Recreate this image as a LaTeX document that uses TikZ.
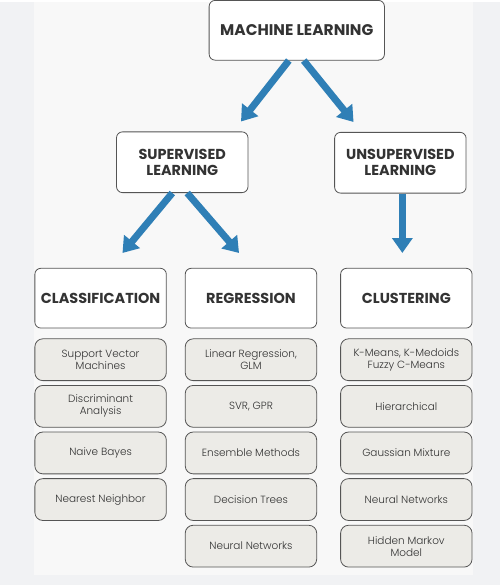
\documentclass[tikz,border=0pt]{standalone}
\usepackage{fontspec}
\setmainfont{Poppins}
\newfontfamily\itemfont{Poppins Light}
\usetikzlibrary{arrows.meta,positioning}
\definecolor{mlblue}{HTML}{2F7FB6}
\definecolor{mltext}{HTML}{333333}
\definecolor{mledge}{HTML}{555555}
\definecolor{mlitem}{HTML}{ECEBE7}
\definecolor{mlback}{HTML}{F1F2F4}
\definecolor{mlpanel}{HTML}{F8F8F8}
\begin{document}
\begin{tikzpicture}[
  x=1pt,y=-1pt,
  text=mltext,
  node distance=4pt,
  topbox/.style={draw=mledge,fill=white,rounded corners=6pt,line width=0.8pt,align=center,
    minimum width=132pt,minimum height=61pt,font=\bfseries\fontsize{14.5}{16}\selectfont},
  headbox/.style={topbox,minimum height=60pt},
  item/.style={draw=mledge,fill=mlitem,rounded corners=8pt,line width=0.8pt,align=center,
    minimum width=132pt,minimum height=42pt,inner sep=2pt,font=\itemfont\fontsize{10.5}{12}\selectfont},
  arr/.style={-{Triangle[width=20pt,length=15pt]},line width=7pt,draw=mlblue}
]
% margins and panel
\fill[mlback] (0,0) rectangle (502,585);
\fill[mlpanel] (34,0) rectangle (475,575);

% upper levels
\node[topbox,minimum width=176pt,minimum height=60pt,font=\bfseries\fontsize{15.5}{17}\selectfont] (ml) at (298,28) {MACHINE LEARNING};
\node[topbox] (sup) at (183,160.5) {SUPERVISED\\LEARNING};
\node[topbox] (unsup) at (402,161) {UNSUPERVISED\\LEARNING};

% method families
\node[headbox] (cls) at (101,297) {CLASSIFICATION};
\node[headbox] (reg) at (252,297) {REGRESSION};
\node[headbox] (clu) at (408,297) {CLUSTERING};

% classification
\node[item,below=10pt of cls] (c1) {Support Vector\\Machines};
\node[item,below=of c1] (c2) {Discriminant\\Analysis};
\node[item,below=of c2] (c3) {Naive Bayes};
\node[item,below=of c3] (c4) {Nearest Neighbor};

% regression
\node[item,below=10pt of reg] (r1) {Linear Regression,\\GLM};
\node[item,below=of r1] (r2) {SVR, GPR};
\node[item,below=of r2] (r3) {Ensemble Methods};
\node[item,below=of r3] (r4) {Decision Trees};
\node[item,below=of r4] (r5) {Neural Networks};

% clustering
\node[item,below=10pt of clu] (u1) {K-Means, K-Medoids\\Fuzzy C-Means};
\node[item,below=of u1] (u2) {Hierarchical};
\node[item,below=of u2] (u3) {Gaussian Mixture};
\node[item,below=of u3] (u4) {Neural Networks};
\node[item,below=of u4] (u5) {Hidden Markov\\Model};

% arrows
\draw[arr] ([xshift=-8pt]ml.south) -- ([xshift=59pt,yshift=10pt]sup.north);
\draw[arr] ([xshift=7pt]ml.south) -- ([xshift=-47pt,yshift=10pt]unsup.north);
\draw[arr] ([xshift=-10pt]sup.south) -- ([xshift=22pt,yshift=15pt]cls.north);
\draw[arr] ([xshift=5pt]sup.south) -- ([xshift=-12pt,yshift=15pt]reg.north);
\draw[arr] ([xshift=2pt]unsup.south) -- ([xshift=-4pt,yshift=15pt]clu.north);

\useasboundingbox (0,0) rectangle (502,585);
\end{tikzpicture}
\end{document}
